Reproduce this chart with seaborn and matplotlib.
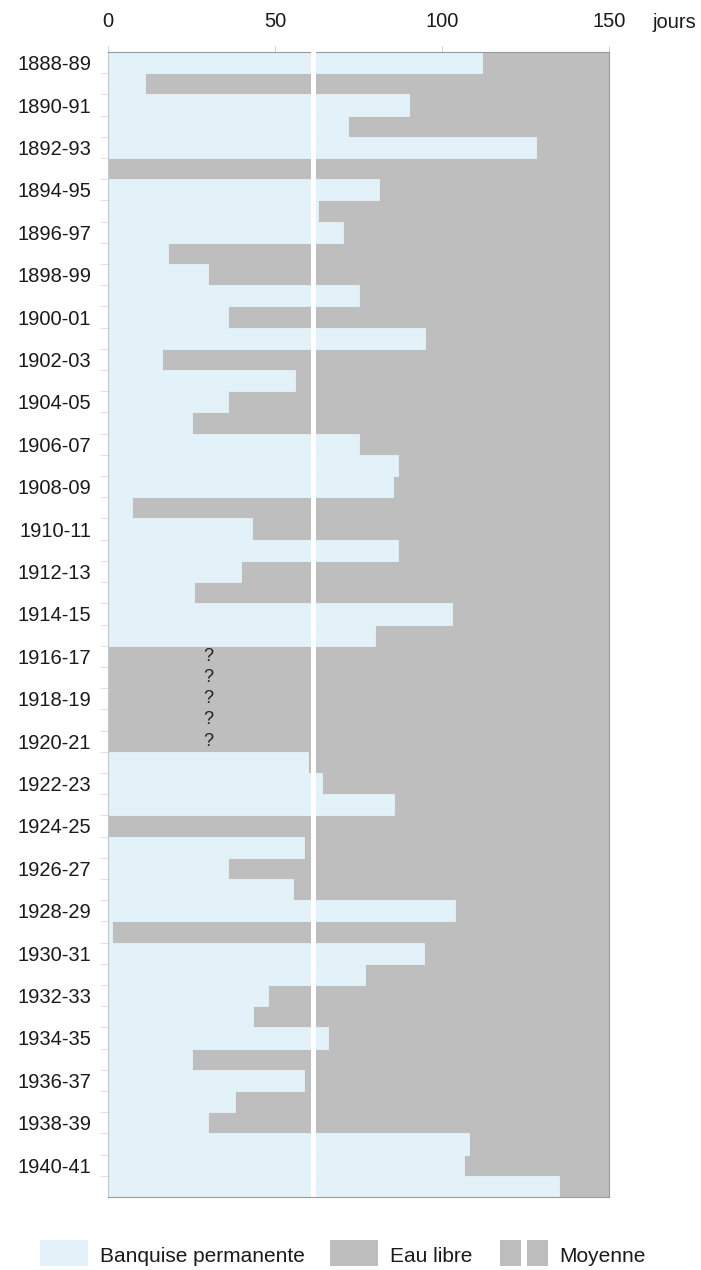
import numpy as np
import pandas as pd
import matplotlib
matplotlib.use("Agg")
import matplotlib.pyplot as plt
import seaborn as sns
from matplotlib.patches import Rectangle

# ---- data -------------------------------------------------------------
annees = list(range(1888, 1942))
saisons = [f"{a}-{str(a + 1)[-2:]}" for a in annees]

# jours de banquise permanente (NaN = donnée manquante, 1916-17 .. 1920-21)
banquise = [112, 11, 90, 72, 128, 0, 81, 63, 70.5, 18,
            30, 75, 36, 95, 16.3, 56, 36, 25.2, 75, 86.8,
            85.2, 7.3, 43.1, 86.8, 39.9, 25.7, 103.1, 79.8,
            np.nan, np.nan, np.nan, np.nan, np.nan,
            60, 64, 85.6, 0, 58.6, 36, 55.3, 103.8, 1.3,
            94.6, 76.8, 48, 43.3, 66, 25.2, 58.6, 37.9, 29.8,
            108, 106.7, 134.9]
saison_totale = 150          # jours
moyenne = 61.3               # jours
x_ticks = [0, 50, 100, 150]
legende = ["Banquise permanente", "Eau libre", "Moyenne"]

df = pd.DataFrame({"saison": saisons,
                   "banquise": banquise,
                   "total": [saison_totale] * len(saisons)})

BLUE = "#e3f2f9"
GRAY = "#bebebe"

sns.set_theme(style="white")
plt.rcParams["font.family"] = ["Liberation Sans", "DejaVu Sans"]

W, H = 701, 1270
fig = plt.figure(figsize=(W / 100, H / 100), dpi=100)
ax = fig.add_axes([108 / W, 1 - 1197 / H, (609 - 108) / W, (1197 - 52) / H])

# Eau libre (fond gris = total de la saison)
sns.barplot(data=df, y="saison", x="total", order=saisons, orient="h",
            color=GRAY, saturation=1, width=1.0, errorbar=None,
            linewidth=0.6, edgecolor=GRAY, ax=ax)
# Banquise permanente
sns.barplot(data=df, y="saison", x="banquise", order=saisons, orient="h",
            color=BLUE, saturation=1, width=1.0, errorbar=None,
            linewidth=0.6, edgecolor=BLUE, ax=ax)

# moyenne
ax.axvline(moyenne, color="white", lw=3.6, zorder=5)

# missing data
for i, v in enumerate(banquise):
    if np.isnan(v):
        ax.text(30, i, "?", ha="center", va="center", fontsize=13,
                color="#222222", zorder=6)

ax.set_xlim(0, saison_totale)
ax.set_ylim(len(saisons) - 0.5, -0.5)
ax.set_xlabel("")
ax.set_ylabel("")

ax.xaxis.tick_top()
ax.set_xticks(x_ticks)
ax.set_xticklabels([str(t) for t in x_ticks], fontsize=14.5, color="#1a1a1a")
ax.tick_params(axis="x", which="major", top=True, length=4, width=0.6,
               color="#c8c8c8", pad=11)

major = list(range(0, len(saisons), 2))
ax.set_yticks(major)
ax.set_yticklabels([saisons[i] for i in major], fontsize=14.5, color="#1a1a1a")
ax.set_yticks(np.arange(0.5, len(saisons) - 1, 1.0), minor=True)
ax.tick_params(axis="y", which="major", left=False, length=0, pad=12)
ax.tick_params(axis="y", which="minor", left=True, length=6, width=0.6,
               color="#dddddd")

for s in ax.spines.values():
    s.set_color("#9a9a9a")
    s.set_linewidth(0.8)
ax.spines["left"].set_color("#c0c8cc")

fig.text(652 / W, 1 - 22 / H, "jours", fontsize=14.5, color="#1a1a1a",
         va="center", ha="left")

# legend
def rect(x0, x1, color):
    fig.add_artist(Rectangle((x0 / W, 1 - 1266 / H), (x1 - x0) / W, 26 / H,
                             transform=fig.transFigure, color=color, lw=0))

ty = 1 - 1256 / H
rect(40, 88, BLUE)
fig.text(100 / W, ty, legende[0], fontsize=15, va="center", color="#1a1a1a")
rect(330, 378, GRAY)
fig.text(390 / W, ty, legende[1], fontsize=15, va="center", color="#1a1a1a")
rect(500, 521, GRAY)
rect(527, 548, GRAY)
fig.text(559 / W, ty, legende[2], fontsize=15, va="center", color="#1a1a1a")

fig.savefig("out.png", dpi=100)
